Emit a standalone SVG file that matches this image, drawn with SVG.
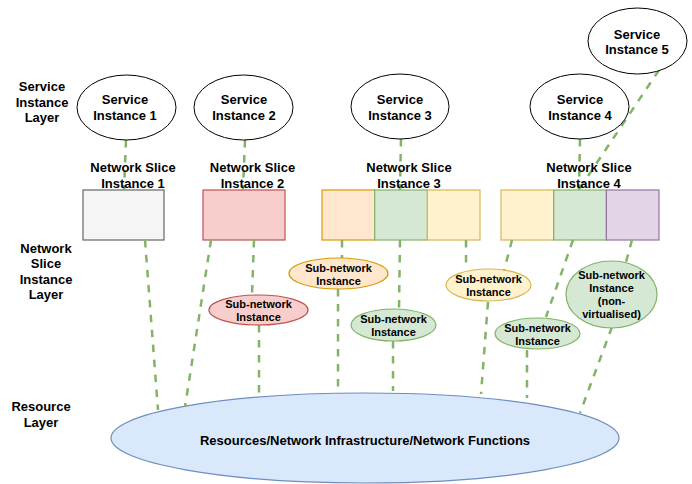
<svg xmlns="http://www.w3.org/2000/svg" width="692" height="484" viewBox="0 0 692 484">
<style>
text{font-family:"Liberation Sans",Arial,sans-serif;font-weight:bold;fill:#000;text-anchor:middle}
.t13{font-size:13px}
.t11{font-size:11px}
.si{fill:#fff;stroke:#000;stroke-width:1}
.gray{fill:#f5f5f5;stroke:#666;stroke-width:1.2}
.red{fill:#f8cecc;stroke:#b85450;stroke-width:1.2}
.org{fill:#ffe6cc;stroke:#d79b00;stroke-width:1.2}
.grn{fill:#d5e8d4;stroke:#82b366;stroke-width:1.2}
.yel{fill:#fff2cc;stroke:#d6b656;stroke-width:1.2}
.pur{fill:#e1d5e7;stroke:#9673a6;stroke-width:1.2}
.blu{fill:#dae8fc;stroke:#6c8ebf;stroke-width:1.2}
#connectors line{stroke:#82b366;stroke-width:2.5;stroke-dasharray:7.5 7.5;fill:none}
</style>
<rect width="692" height="484" fill="#fff"/>

<g id="layer-labels">
<text class="t13" x="42" y="91">Service</text>
<text class="t13" x="42" y="106.5">Instance</text>
<text class="t13" x="42" y="122">Layer</text>
<text class="t13" x="46" y="253">Network</text>
<text class="t13" x="46" y="268">Slice</text>
<text class="t13" x="46" y="283.5">Instance</text>
<text class="t13" x="46" y="299">Layer</text>
<text class="t13" x="41" y="411">Resource</text>
<text class="t13" x="41" y="427">Layer</text>
</g>

<g id="resources">
<ellipse class="blu" cx="365" cy="438" rx="254" ry="45"/>
<text class="t13" x="365" y="445">Resources/Network Infrastructure/Network Functions</text>
</g>

<g id="nsi1">
<rect class="gray" x="83" y="190" width="81" height="50"/>
</g>
<g id="nsi2">
<rect class="red" x="203" y="190" width="82" height="50"/>
</g>
<g id="nsi3">
<rect class="org" x="322" y="190" width="52.7" height="50"/>
<rect class="grn" x="374.7" y="190" width="52.7" height="50"/>
<rect class="yel" x="427.4" y="190" width="52.6" height="50"/>
</g>
<g id="nsi4">
<rect class="yel" x="501" y="190" width="52.7" height="50"/>
<rect class="grn" x="553.7" y="190" width="52.7" height="50"/>
<rect class="pur" x="606.4" y="190" width="52.6" height="50"/>
</g>

<g id="connectors">
<line x1="126" y1="140" x2="124" y2="190"/>
<line x1="245" y1="140" x2="243" y2="190"/>
<line x1="401" y1="139" x2="400" y2="190"/>
<line x1="580" y1="139" x2="579" y2="190"/>
<line x1="659" y1="70" x2="578" y2="191"/>
<line x1="145" y1="240" x2="158" y2="410"/>
<line x1="211" y1="240" x2="185" y2="407"/>
<line x1="254" y1="240" x2="252" y2="295"/>
<line x1="259" y1="325" x2="259" y2="393"/>
<line x1="342" y1="240" x2="342" y2="258"/>
<line x1="338" y1="289" x2="338" y2="393"/>
<line x1="400" y1="240" x2="399" y2="309"/>
<line x1="393" y1="341" x2="393" y2="391"/>
<line x1="466" y1="240" x2="466" y2="269"/>
<line x1="488" y1="302" x2="481" y2="394"/>
<line x1="512" y1="240" x2="504" y2="271"/>
<line x1="573" y1="240" x2="546" y2="317"/>
<line x1="527" y1="350" x2="527" y2="398"/>
<line x1="632" y1="240" x2="626" y2="262"/>
<line x1="612" y1="327" x2="580" y2="413"/>
</g>

<g id="nsi-labels">
<text class="t13" x="133" y="172">Network Slice</text>
<text class="t13" x="133" y="188">Instance 1</text>
<text class="t13" x="252.5" y="172">Network Slice</text>
<text class="t13" x="252.5" y="188">Instance 2</text>
<text class="t13" x="409" y="172">Network Slice</text>
<text class="t13" x="409" y="188">Instance 3</text>
<text class="t13" x="589" y="172">Network Slice</text>
<text class="t13" x="589" y="188">Instance 4</text>
</g>

<g id="si1">
<ellipse class="si" cx="126.5" cy="107.5" rx="49.5" ry="32.5"/>
<text class="t13" x="125" y="104">Service</text>
<text class="t13" x="125" y="119.5">Instance 1</text>
</g>
<g id="si2">
<ellipse class="si" cx="243.5" cy="107.5" rx="49.5" ry="32.5"/>
<text class="t13" x="244" y="104">Service</text>
<text class="t13" x="244" y="119.5">Instance 2</text>
</g>
<g id="si3">
<ellipse class="si" cx="400" cy="106.5" rx="49" ry="32.5"/>
<text class="t13" x="400" y="104">Service</text>
<text class="t13" x="400" y="119.5">Instance 3</text>
</g>
<g id="si4">
<ellipse class="si" cx="579.5" cy="106.5" rx="49.5" ry="32.5"/>
<text class="t13" x="580" y="104">Service</text>
<text class="t13" x="580" y="119.5">Instance 4</text>
</g>
<g id="si5">
<ellipse class="si" cx="637.5" cy="41" rx="49.5" ry="33"/>
<text class="t13" x="637" y="38.5">Service</text>
<text class="t13" x="637" y="54">Instance 5</text>
</g>

<g id="sub-red">
<ellipse class="red" cx="258.5" cy="310" rx="49.5" ry="15"/>
<text class="t11" x="258.5" y="308">Sub-network</text>
<text class="t11" x="258.5" y="321">Instance</text>
</g>
<g id="sub-orange">
<ellipse class="org" cx="338.5" cy="273.5" rx="49.5" ry="15.5"/>
<text class="t11" x="338.5" y="272">Sub-network</text>
<text class="t11" x="338.5" y="285">Instance</text>
</g>
<g id="sub-green3">
<ellipse class="grn" cx="393.5" cy="325" rx="42.5" ry="16"/>
<text class="t11" x="393.5" y="323">Sub-network</text>
<text class="t11" x="393.5" y="336">Instance</text>
</g>
<g id="sub-yellow3">
<ellipse class="yel" cx="488.5" cy="285" rx="42.5" ry="16"/>
<text class="t11" x="488.5" y="283">Sub-network</text>
<text class="t11" x="488.5" y="296">Instance</text>
</g>
<g id="sub-green4">
<ellipse class="grn" cx="537.5" cy="333.5" rx="42.5" ry="15.5"/>
<text class="t11" x="537.5" y="332">Sub-network</text>
<text class="t11" x="537.5" y="345">Instance</text>
</g>
<g id="sub-nonvirt">
<ellipse class="grn" cx="611.5" cy="294.5" rx="45.5" ry="33.5"/>
<text class="t11" x="611.5" y="279">Sub-network</text>
<text class="t11" x="611.5" y="292">Instance</text>
<text class="t11" x="611.5" y="305">(non-</text>
<text class="t11" x="611.5" y="318">virtualised)</text>
</g>
</svg>
